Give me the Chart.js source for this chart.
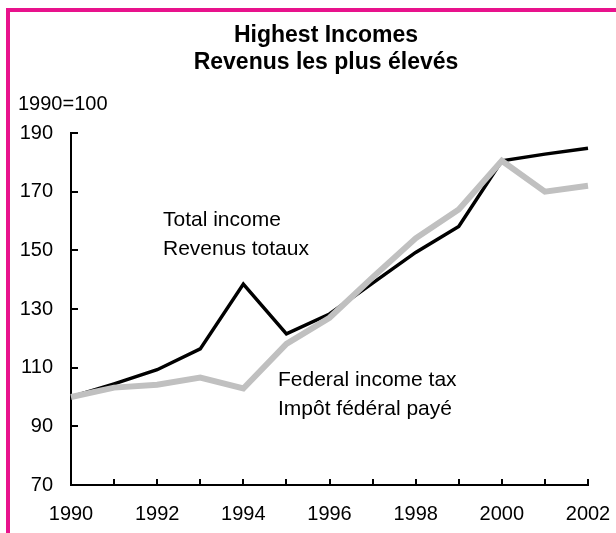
<!DOCTYPE html>
<html lang="en">
<head>
<meta charset="utf-8">
<title>Highest Incomes</title>
<script src="https://cdn.jsdelivr.net/npm/chart.js@4"></script>
<style>
  html, body { margin: 0; padding: 0; background: #fff; overflow: hidden; }
  #wrap { position: relative; width: 616px; height: 533px; overflow: hidden; }
  #frame { position: absolute; left: 6px; top: 8px; right: -20px; bottom: -20px;
           border-top: 4px solid #e8128c; border-left: 4px solid #e8128c; }
  canvas { position: absolute; left: 0; top: 0; }
</style>
</head>
<body>
<div id="wrap">
  <div id="frame"></div>
  <canvas id="chart" width="616" height="533"></canvas>
</div>
<script>
/* Highest incomes: total income vs federal income tax paid, indexed 1990=100. */

const years = ["1990", "1991", "1992", "1993", "1994", "1995", "1996",
               "1997", "1998", "1999", "2000", "2001", "2002"];
const totalIncome = [100, 104.5, 109.3, 116.4, 138.5, 121.5, 128.3,
                     138.8, 149.3, 158.1, 180.5, 182.8, 184.8];
const federalTax = [100, 103.2, 104.2, 106.6, 102.9, 118.1, 127,
                    140.8, 154.1, 163.9, 180.5, 170, 172];
const yTicks = [70, 90, 110, 130, 150, 170, 190];

const FONT = "'Liberation Sans', Arial, sans-serif";
Chart.defaults.font.family = FONT;
Chart.defaults.font.size = 20;
Chart.defaults.color = "#000";

// captions drawn straight onto the canvas
const titleLines = ["Highest Incomes", "Revenus les plus élevés"];
const unitLabel = "1990=100";
const notes = [
  { text: "Total income", x: 163, y: 220 },
  { text: "Revenus totaux", x: 163, y: 249 },
  { text: "Federal income tax", x: 278, y: 380 },
  { text: "Impôt fédéral payé", x: 278, y: 409 },
];

const captions = {
  id: "captions",
  afterDraw(chart) {
    const ctx = chart.ctx;
    ctx.save();
    ctx.fillStyle = "#000";
    ctx.textBaseline = "middle";
    ctx.textAlign = "center";
    ctx.font = `bold 23px ${FONT}`;
    ctx.fillText(titleLines[0], 326, 36);
    ctx.fillText(titleLines[1], 326, 63);
    ctx.textAlign = "left";
    ctx.font = `20px ${FONT}`;
    ctx.fillText(unitLabel, 18, 104);
    ctx.font = `21px ${FONT}`;
    notes.forEach((n) => ctx.fillText(n.text, n.x, n.y));
    ctx.restore();
  },
};

// short tick marks pointing into the plot, one per year and per y step
const innerTicks = {
  id: "innerTicks",
  afterDraw(chart) {
    const { ctx, scales: { x, y } } = chart;
    ctx.save();
    ctx.strokeStyle = "#000";
    ctx.lineWidth = 2;
    ctx.beginPath();
    years.forEach((_, i) => {
      const px = Math.round(x.getPixelForValue(i));
      ctx.moveTo(px, y.bottom);
      ctx.lineTo(px, y.bottom - 6);
    });
    yTicks.forEach((v) => {
      const py = Math.round(y.getPixelForValue(v));
      ctx.moveTo(x.left, py);
      ctx.lineTo(x.left + 7, py);
    });
    ctx.stroke();
    ctx.restore();
  },
};

new Chart(document.getElementById("chart"), {
  type: "line",
  data: {
    labels: years,
    datasets: [
      {
        label: "Federal income tax",
        data: federalTax,
        borderColor: "#c0c0c0",
        borderWidth: 6,
        order: 0,
      },
      {
        label: "Total income",
        data: totalIncome,
        borderColor: "#000",
        borderWidth: 3.5,
        order: 1,
      },
    ],
  },
  options: {
    responsive: false,
    animation: false,
    layout: { padding: { top: 133, left: 20, right: 28, bottom: 7 } },
    elements: {
      point: { radius: 0 },
      line: { tension: 0, borderJoinStyle: "miter", borderCapStyle: "butt" },
    },
    plugins: { legend: { display: false }, tooltip: { enabled: false }, title: { display: false } },
    scales: {
      x: {
        offset: false,
        grid: { display: false, drawTicks: false },
        border: { display: true, color: "#000", width: 2 },
        ticks: {
          autoSkip: false,
          maxRotation: 0,
          padding: 17,
          callback: (v, i) => (i % 2 === 0 ? years[i] : ""),
        },
        afterFit(s) { s.height = 41; s.paddingLeft = 0; s.paddingRight = 0; },
      },
      y: {
        min: 70,
        max: 190,
        grid: { display: false, drawTicks: false },
        border: { display: true, color: "#000", width: 2 },
        ticks: { stepSize: 20, padding: 18 },
        afterFit(s) { s.width = 51; s.paddingTop = 0; s.paddingBottom = 0; },
      },
    },
  },
  plugins: [captions, innerTicks],
});
</script>
</body>
</html>
